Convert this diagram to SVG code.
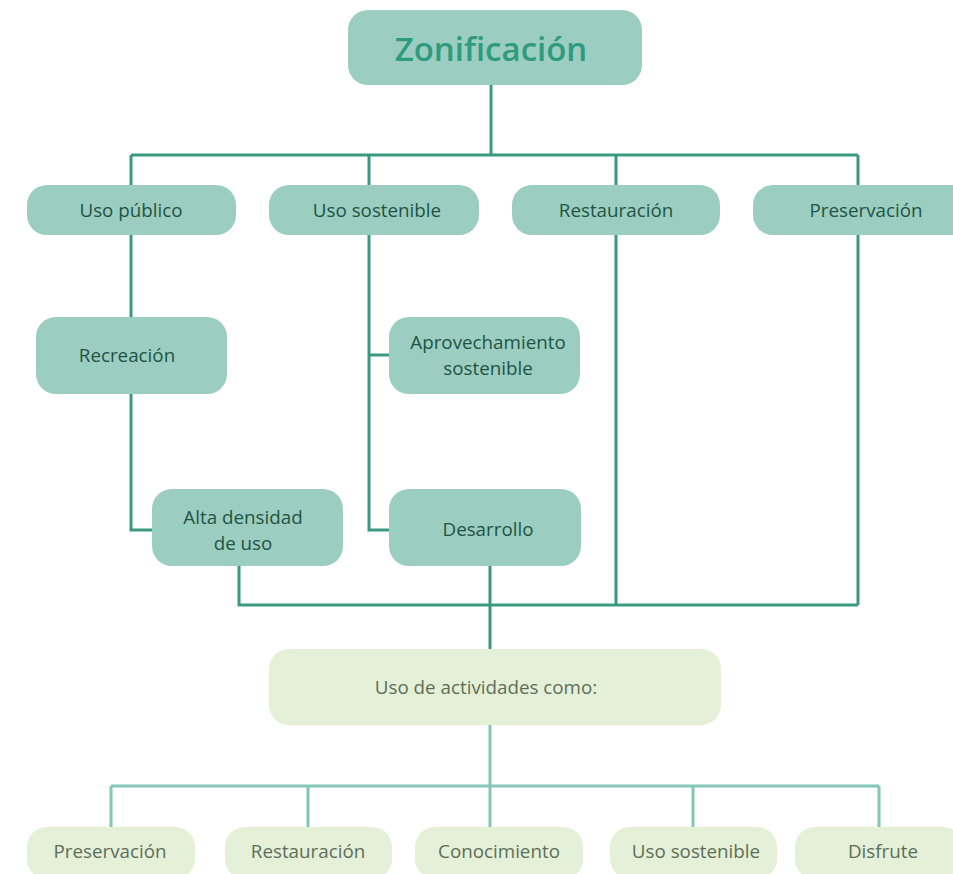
<svg xmlns="http://www.w3.org/2000/svg" width="953" height="874" viewBox="0 0 953 874">
<style>
.n{fill:#9bcdc0}
.l{fill:#e5f0d8}
.t{font-family:"Open Sans","Noto Sans",sans-serif;font-size:18.8px;fill:#1f5444;text-anchor:middle}
.tl{font-family:"Open Sans","Noto Sans",sans-serif;font-size:18.8px;fill:#5d6e58;text-anchor:middle}
.c{fill:none;stroke:#3a9a80;stroke-width:3}
.c2{fill:none;stroke:#84c6b7;stroke-width:3}
</style>
<rect width="953" height="874" fill="#fff"/>
<g id="connectors">
<path class="c" d="M491 85V155M131 155H858M131 155V185M369 155V185M616 155V185M858 155V185"/>
<path class="c" d="M131 235V317M131 394V530H152M369 235V530H389M369 355H389"/>
<path class="c" d="M239 566V605H858M490 566V649M616 235V605M858 235V605"/>
<path class="c2" d="M490 725V786M111 786H879M111 786V827M308 786V827M490 786V827M693 786V827M879 786V827"/>
</g>
<g id="zonificacion"><rect class="n" x="348" y="10" width="294" height="75" rx="20"/><text x="491" y="61" style="font-family:'Open Sans','Noto Sans',sans-serif;font-size:33px;font-weight:600;fill:#2e9c7c;text-anchor:middle">Zonificación</text></g>
<g id="uso-publico"><rect class="n" x="27" y="185" width="209" height="50" rx="20"/><text class="t" x="131" y="217">Uso público</text></g>
<g id="uso-sostenible"><rect class="n" x="269" y="185" width="210" height="50" rx="20"/><text class="t" x="377" y="217">Uso sostenible</text></g>
<g id="restauracion"><rect class="n" x="512" y="185" width="208" height="50" rx="20"/><text class="t" x="616" y="217">Restauración</text></g>
<g id="preservacion"><rect class="n" x="753" y="185" width="226" height="50" rx="20"/><text class="t" x="866" y="217">Preservación</text></g>
<g id="recreacion"><rect class="n" x="36" y="317" width="191" height="77" rx="20"/><text class="t" x="127" y="362">Recreación</text></g>
<g id="aprovechamiento"><rect class="n" x="389" y="317" width="191" height="77" rx="20"/><text class="t" x="488" y="349">Aprovechamiento</text><text class="t" x="488" y="375">sostenible</text></g>
<g id="alta-densidad"><rect class="n" x="152" y="489" width="191" height="77" rx="20"/><text class="t" x="243" y="524">Alta densidad</text><text class="t" x="243" y="550">de uso</text></g>
<g id="desarrollo"><rect class="n" x="389" y="489" width="192" height="77" rx="20"/><text class="t" x="488" y="536">Desarrollo</text></g>
<g id="uso-actividades"><rect class="l" x="269" y="649" width="452" height="76" rx="20"/><text class="tl" x="486" y="694">Uso de actividades como:</text></g>
<g id="b-preservacion"><rect class="l" x="27" y="827" width="168" height="52" rx="20"/><text class="tl" x="110" y="858">Preservación</text></g>
<g id="b-restauracion"><rect class="l" x="225" y="827" width="167" height="52" rx="20"/><text class="tl" x="308" y="858">Restauración</text></g>
<g id="b-conocimiento"><rect class="l" x="415" y="827" width="168" height="52" rx="20"/><text class="tl" x="499" y="858">Conocimiento</text></g>
<g id="b-uso-sostenible"><rect class="l" x="610" y="827" width="167" height="52" rx="20"/><text class="tl" x="696" y="858">Uso sostenible</text></g>
<g id="b-disfrute"><rect class="l" x="795" y="827" width="168" height="52" rx="20"/><text class="tl" x="883" y="858">Disfrute</text></g>
</svg>
